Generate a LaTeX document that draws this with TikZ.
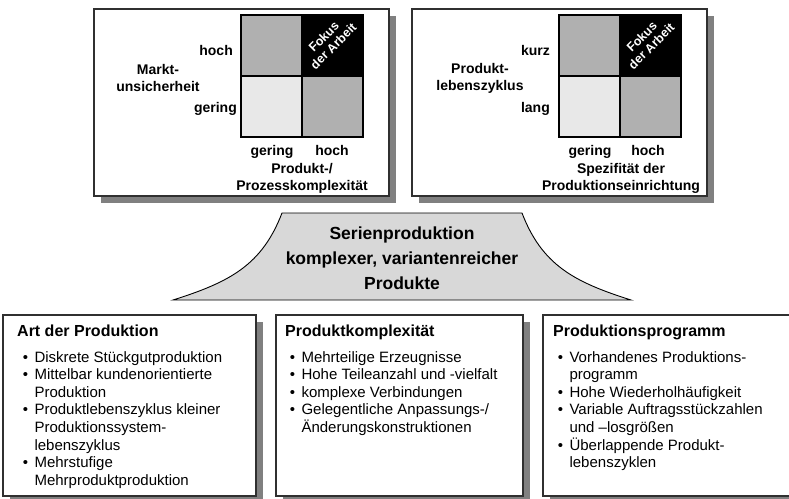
\documentclass[tikz,border=0pt]{standalone}
\usepackage{fontspec}
\setmainfont{Liberation Sans}
\usetikzlibrary{shadows}
\definecolor{cellmid}{HTML}{B0B0B0}
\definecolor{celllight}{HTML}{E8E8E8}
\definecolor{bellfill}{HTML}{D8D8D8}
\definecolor{shadowgray}{HTML}{808080}
\definecolor{framegray}{HTML}{303030}
\newcommand{\bul}{\textbullet}
\begin{document}
\begin{tikzpicture}[x=1pt,y=-1pt,
  panel/.style={draw=framegray, line width=1.3pt, fill=white, anchor=north west,
    inner sep=0pt, outer sep=0pt,
    drop shadow={shadow xshift=7pt, shadow yshift=-7pt, fill=shadowgray, opacity=1}},
  cell/.style={draw=black, line width=1.4pt, minimum size=61pt, anchor=north west,
    inner sep=0pt, outer sep=0pt},
  axislbl/.style={font=\fontsize{14}{17}\selectfont\bfseries, inner sep=0pt},
  focus/.style={font=\fontsize{12.5}{13.5}\selectfont\bfseries, text=white, align=center,
    rotate=45, inner sep=0pt},
  head/.style={font=\fontsize{16}{19}\selectfont\bfseries, anchor=base west, inner sep=0pt},
  items/.style={font=\fontsize{15}{17.6}\selectfont, anchor=base west, inner sep=0pt},
]
\useasboundingbox (0,0) rectangle (789,498);

% ---------- upper left panel: market uncertainty vs. complexity ----------
\node[panel, minimum width=295pt, minimum height=187pt] (pl) at (94,9) {};
\node[cell, fill=cellmid]   (pl11) at (241,15) {};
\node[cell, fill=black]     (pl12) at (302,15) {};
\node[cell, fill=celllight] (pl21) at (241,76) {};
\node[cell, fill=cellmid]   (pl22) at (302,76) {};
\node[focus] (plf) at ([shift={(-4,-4)}]pl12.center) {Fokus\\der Arbeit};
\node[axislbl, anchor=base east] (plhi) at (233,55) {hoch};
\node[axislbl, anchor=base east] (pllo) at (237,112) {gering};
\node[axislbl, align=center] (ply) at (158,78) {Markt-\\unsicherheit};
\node[axislbl, anchor=base] (plxlo) at (272,155) {gering};
\node[axislbl, anchor=base] (plxhi) at (332,155) {hoch};
\node[axislbl, align=center] (plx) at (302,178) {Produkt-/\\Prozesskomplexität};

% ---------- upper right panel: life cycle vs. specificity ----------
\node[panel, minimum width=295pt, minimum height=187pt] (pr) at (412,9) {};
\node[cell, fill=cellmid]   (pr11) at (559,15) {};
\node[cell, fill=black]     (pr12) at (620,15) {};
\node[cell, fill=celllight] (pr21) at (559,76) {};
\node[cell, fill=cellmid]   (pr22) at (620,76) {};
\node[focus] (prf) at ([shift={(-4,-4)}]pr12.center) {Fokus\\der Arbeit};
\node[axislbl, anchor=base east] (prhi) at (550,55) {kurz};
\node[axislbl, anchor=base east] (prlo) at (550,112) {lang};
\node[axislbl, align=center] (pry) at (480,78) {Produkt-\\lebenszyklus};
\node[axislbl, anchor=base] (prxlo) at (590,155) {gering};
\node[axislbl, anchor=base] (prxhi) at (648,155) {hoch};
\node[axislbl, align=center] (prx) at (621,178) {Spezifität der\\Produktionseinrichtung};

% ---------- central bell shape ----------
\draw[fill=bellfill, line width=0.9pt]
  (173,300) .. controls (230,282) and (262,265) .. (282,213)
  -- (522,213) .. controls (542,265) and (574,282) .. (631,300) -- cycle;
\node[font=\fontsize{17.5}{25}\selectfont\bfseries, align=center, inner sep=0pt] (bell)
  at (402,258) {Serienproduktion\\komplexer, variantenreicher\\Produkte};

% ---------- lower boxes ----------
\node[panel, minimum width=253pt, minimum height=181pt] (ba) at (3,315) {};
\node[head] (bah) at (17,336) {Art der Produktion};
\node[items] (bai) at (22.6,362) {\begin{tabular}[t]{@{}l@{\hspace{6.5pt}}l@{}}
\bul & Diskrete Stückgutproduktion\\
\bul & Mittelbar kundenorientierte\\
     & Produktion\\
\bul & Produktlebenszyklus kleiner\\
     & Produktionssystem-\\
     & lebenszyklus\\
\bul & Mehrstufige\\
     & Mehrproduktproduktion
\end{tabular}};

\node[panel, minimum width=247pt, minimum height=181pt] (bb) at (276,315) {};
\node[head] (bbh) at (285,336) {Produktkomplexität};
\node[items] (bbi) at (289.6,362) {\begin{tabular}[t]{@{}l@{\hspace{6.5pt}}l@{}}
\bul & Mehrteilige Erzeugnisse\\
\bul & Hohe Teileanzahl und -vielfalt\\
\bul & komplexe Verbindungen\\
\bul & Gelegentliche Anpassungs-/\\
     & Änderungskonstruktionen
\end{tabular}};

\node[panel, minimum width=260pt, minimum height=181pt] (bc) at (543,315) {};
\node[head] (bch) at (553,336) {Produktionsprogramm};
\node[items] (bci) at (557.6,362) {\begin{tabular}[t]{@{}l@{\hspace{6.5pt}}l@{}}
\bul & Vorhandenes Produktions-\\
     & programm\\
\bul & Hohe Wiederholhäufigkeit\\
\bul & Variable Auftragsstückzahlen\\
     & und –losgrößen\\
\bul & Überlappende Produkt-\\
     & lebenszyklen
\end{tabular}};
\end{tikzpicture}
\end{document}
